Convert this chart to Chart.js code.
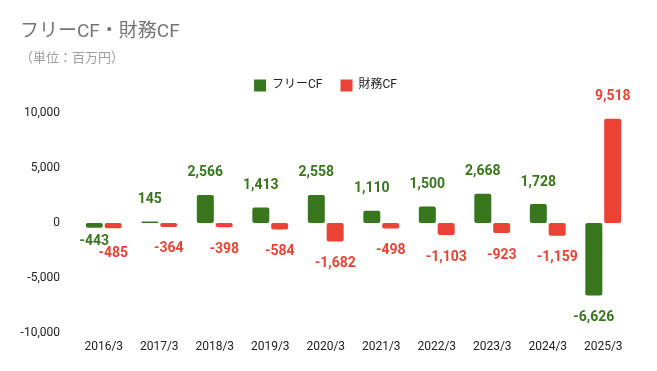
<!DOCTYPE html>
<html>
<head>
<meta charset="utf-8">
<script src="https://cdn.jsdelivr.net/npm/chart.js@4"></script>
<style>
html,body{margin:0;padding:0;background:#fff;}
#wrap{position:relative;width:657px;height:371px;}
</style>
</head>
<body>
<div id="wrap"><canvas id="c" width="657" height="371"></canvas></div>
<script>
const categories = ['2016/3','2017/3','2018/3','2019/3','2020/3','2021/3','2022/3','2023/3','2024/3','2025/3'];
const freeCF = [-443, 145, 2566, 1413, 2558, 1110, 1500, 2668, 1728, -6626];
const financeCF = [-485, -364, -398, -584, -1682, -498, -1103, -923, -1159, 9518];
const yTicks = [-10000, -5000, 0, 5000, 10000];
const seriesNames = ['フリーCF', '財務CF'];
const GREEN = '#38761d';
const RED = '#ea4335';
const FONT = "Roboto, 'Noto Sans CJK JP', sans-serif";

const legendSpacer = {
  id: 'legendSpacer',
  beforeInit(chart) {
    const originalFit = chart.legend.fit;
    chart.legend.fit = function fit() {
      originalFit.bind(chart.legend)();
      this.height += 12;
    };
  }
};

const labelPlugin = {
  id: 'valueLabels',
  afterDatasetsDraw(chart) {
    const ctx = chart.ctx;
    ctx.save();
    ctx.font = 'bold 14px ' + FONT;
    ctx.textAlign = 'center';
    ctx.textBaseline = 'middle';
    const n = categories.length;
    for (let i = 0; i < n; i++) {
      const items = [];
      chart.data.datasets.forEach((ds, di) => {
        const meta = chart.getDatasetMeta(di);
        const el = meta.data[i];
        const v = ds.data[i];
        const off = 22;
        const y = v >= 0 ? el.y - off : el.y + off;
        items.push({x: el.x, y, v, color: ds.backgroundColor, text: v.toLocaleString('en-US')});
      });
      if (items.length === 2 && Math.sign(items[0].v) === Math.sign(items[1].v) && Math.abs(items[0].y - items[1].y) < 12) {
        const m = (items[0].y + items[1].y) / 2;
        const toward = items[0].v < 0 ? -3 : 3;
        items[0].y = m - 6 + toward;
        items[1].y = m + 6 + toward;
      }
      items.forEach(it => {
        ctx.fillStyle = it.color;
        ctx.fillText(it.text, it.x, it.y);
      });
    }
    ctx.restore();
  }
};

new Chart(document.getElementById('c'), {
  type: 'bar',
  data: {
    labels: categories,
    datasets: [
      {label: seriesNames[0], data: freeCF, backgroundColor: GREEN, borderRadius: 2, borderSkipped: false, barPercentage: 0.9, categoryPercentage: 0.68},
      {label: seriesNames[1], data: financeCF, backgroundColor: RED, borderRadius: 2, borderSkipped: false, barPercentage: 0.9, categoryPercentage: 0.68}
    ]
  },
  options: {
    responsive: false,
    animation: false,
    devicePixelRatio: 1,
    layout: {padding: {left: 20, right: 26, top: 0, bottom: 10}},
    plugins: {
      title: {
        display: true, text: 'フリーCF・財務CF', align: 'start', color: '#757575',
        font: {family: FONT, size: 19, weight: 'normal'}, padding: {top: 21, bottom: 5}
      },
      subtitle: {
        display: true, text: '（単位：百万円）', align: 'start', color: '#9e9e9e',
        font: {family: FONT, size: 13, weight: 'normal'}, padding: {top: 2, bottom: -5}
      },
      legend: {
        display: true, position: 'top', align: 'center',
        labels: {boxWidth: 12, boxHeight: 12, padding: 18, color: '#222', font: {family: FONT, size: 12}}
      },
      tooltip: {enabled: false}
    },
    scales: {
      x: {
        grid: {display: false, drawTicks: false}, border: {display: false},
        ticks: {color: '#222', font: {family: FONT, size: 12}, padding: 7, maxRotation: 0}
      },
      y: {
        min: -10000, max: 10000,
        grid: {display: false, drawTicks: false}, border: {display: false},
        afterBuildTicks: s => { s.ticks = yTicks.map(v => ({value: v})); },
        afterFit: s => { s.width = 56; },
        ticks: {color: '#222', font: {family: FONT, size: 12}, padding: 16,
          callback: v => v.toLocaleString('en-US')}
      }
    }
  },
  plugins: [legendSpacer, labelPlugin]
});
</script>
</body>
</html>
